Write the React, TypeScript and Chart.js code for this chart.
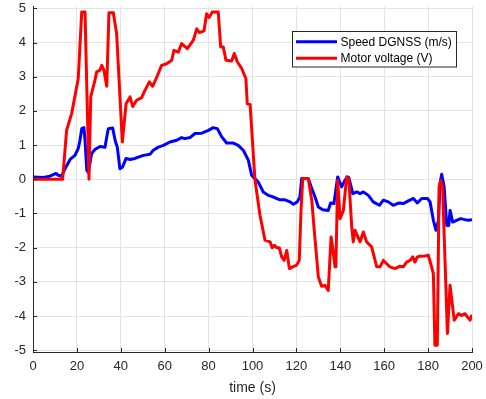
import React, { useEffect, useRef } from "react";
import { Chart, registerables } from "chart.js";

Chart.register(...registerables);

const speedTime = [0, 4.7, 7.7, 10.5, 11.5, 13, 14.6, 16.9, 19.1, 20.6, 21.4, 22.2, 23.2, 23.7, 24.5, 25.2, 26.7, 28.2, 30.5, 32.8, 33.6, 34.3, 36.3, 37.4, 38.4, 39.6, 40.8, 42.4, 44.2, 46.5, 48.0, 50.3, 53.3, 54.8, 57.1, 59.4, 62.4, 65.5, 67.7, 69.2, 71.5, 73.8, 76.9, 79.9, 82.1, 84.0, 86.0, 88.2, 91.3, 93.5, 95.8, 98.1, 99.6, 101.1, 102.6, 104.9, 107.2, 108.7, 110.3, 112.5, 114.8, 117.1, 118.6, 120.4, 121.6, 122.4, 125.4, 127.0, 128.5, 130, 132, 134.5, 135.6, 137.1, 138.8, 140.6, 142.1, 143.2, 143.9, 145.7, 147.5, 149, 150.5, 152.8, 155, 157.8, 159.6, 161.9, 164.1, 166.8, 168.7, 171, 173.3, 175.1, 177.1, 179.7, 180.9, 182.4, 183.6, 184.7, 185.4, 186.2, 187.3, 188.5, 189.4, 190, 191.2, 193, 194.8, 196.8, 198.3, 200];
const speed = [0.07, 0.05, 0.09, 0.17, 0.12, 0.09, 0.31, 0.58, 0.70, 0.90, 1.14, 1.48, 1.51, 1.14, 0.26, 0.20, 0.75, 0.87, 0.96, 0.94, 1.24, 1.48, 1.50, 1.14, 0.94, 0.31, 0.36, 0.61, 0.58, 0.61, 0.65, 0.70, 0.73, 0.85, 0.94, 0.99, 1.09, 1.14, 1.22, 1.19, 1.22, 1.34, 1.35, 1.43, 1.51, 1.48, 1.24, 1.06, 1.06, 0.99, 0.85, 0.56, 0.12, 0.02, -0.08, -0.37, -0.47, -0.5, -0.54, -0.60, -0.60, -0.66, -0.73, -0.66, -0.52, 0.02, 0.02, -0.27, -0.52, -0.81, -0.89, -0.91, -0.69, -0.71, 0.07, -0.22, -0.03, 0.07, 0.05, -0.42, -0.37, -0.42, -0.37, -0.47, -0.66, -0.76, -0.61, -0.66, -0.76, -0.69, -0.71, -0.63, -0.56, -0.69, -0.56, -0.56, -0.66, -1.20, -1.49, -1.20, -0.13, 0.15, -0.22, -1.35, -1.35, -0.91, -1.25, -1.20, -1.15, -1.18, -1.2, -1.18];

const voltTime = [0, 13.5, 15.3, 17.6, 20.6, 22.2, 23.7, 25.5, 26.3, 28.2, 29.0, 30.5, 31.3, 32.3, 33.6, 34.6, 36.6, 38.1, 40.7, 42.4, 44.2, 45.4, 47.2, 49.5, 51.0, 53.0, 54.5, 56.4, 58.6, 60.9, 63.2, 64.2, 66.2, 67.7, 70.3, 73.0, 74.6, 75.8, 77.9, 79.1, 80.2, 81.7, 84.4, 85.5, 86.7, 87.9, 90.5, 91.7, 93.1, 95.1, 97.0, 97.6, 98.9, 101.1, 103.4, 105.7, 108, 109, 110, 111, 112.2, 113.3, 114.4, 115.6, 116.8, 118.3, 120.1, 121.3, 122.1, 122.9, 125.4, 127, 128, 130, 131.5, 133, 134.5, 135.8, 136.5, 137.6, 138, 138.8, 139.9, 141.4, 142.9, 143.9, 145.2, 145.9, 146.7, 147.7, 149, 150.5, 152, 154.3, 156.6, 158.1, 159.6, 161.1, 162.6, 164.9, 167.2, 168.7, 170.2, 171.8, 173, 174, 175.1, 176.3, 178.6, 180.1, 181.6, 182.4, 183.1, 184.2, 185, 185.8, 186.6, 187.7, 188.8, 190, 191.9, 193.8, 195.3, 196.8, 198, 199.1, 200];
const voltage = [0, 0, 1.43, 1.92, 2.94, 4.89, 4.89, 0, 2.41, 2.89, 3.14, 3.19, 3.33, 3.19, 2.72, 4.87, 4.87, 4.26, 1.09, 2.21, 2.41, 2.13, 2.31, 2.39, 2.60, 2.85, 2.72, 2.99, 3.33, 3.38, 3.48, 3.77, 3.72, 3.97, 3.82, 4.06, 4.40, 4.29, 4.34, 4.84, 4.73, 4.89, 4.89, 3.87, 3.87, 3.48, 3.46, 3.68, 3.43, 3.24, 2.94, 2.21, 2.19, 0.0, -1.05, -1.78, -1.83, -2.0, -1.93, -2.0, -2.0, -2.27, -2.37, -2.08, -2.61, -2.56, -2.51, -2.37, -0.91, 0.02, 0.02, -0.61, -1.39, -2.86, -3.13, -3.10, -3.25, -1.69, -1.98, -2.56, -2.51, -0.03, -1.15, -0.91, 0.07, 0.0, -1.39, -1.83, -1.49, -1.64, -1.83, -1.54, -1.83, -1.98, -2.56, -2.56, -2.37, -2.47, -2.56, -2.61, -2.54, -2.56, -2.42, -2.37, -2.27, -2.42, -2.27, -2.25, -2.24, -2.22, -2.56, -2.76, -4.85, -4.85, -0.22, -0.03, -0.22, -2.37, -4.51, -3.10, -4.12, -3.93, -3.98, -3.93, -4.03, -4.12, -3.96];

const seriesNames = ["Speed DGNSS (m/s)", "Motor voltage (V)"];
const seriesColors = ["#0000FF", "#FF0000"];
const xTitle = "time (s)";

const FONT = "'Liberation Sans', Arial, Helvetica, sans-serif";
const AXIS = "#262626";

const zeroPad = (s: any) => {
  s.paddingTop = 0;
  s.paddingBottom = 0;
  s.paddingLeft = 0;
  s.paddingRight = 0;
};

const extrasPlugin = {
  id: "matlabExtras",
  afterDraw(chart: any) {
    const ctx = chart.ctx;
    const area = chart.chartArea;
    const xs = chart.scales.x;
    const ys = chart.scales.y;
    ctx.save();
    ctx.strokeStyle = AXIS;
    ctx.lineWidth = 1;
    ctx.beginPath();
    xs.ticks.forEach((t: any) => {
      const px = Math.round(xs.getPixelForValue(t.value)) + 0.5;
      ctx.moveTo(px, area.bottom);
      ctx.lineTo(px, area.bottom - 4);
    });
    ys.ticks.forEach((t: any) => {
      const py = Math.round(ys.getPixelForValue(t.value)) + 0.5;
      ctx.moveTo(area.left, py);
      ctx.lineTo(area.left + 4, py);
    });
    ctx.stroke();
    const bx = 292.5, by = 31.5, bw = 164, bh = 35.5;
    ctx.fillStyle = "#ffffff";
    ctx.fillRect(bx, by, bw, bh);
    ctx.strokeStyle = AXIS;
    ctx.lineWidth = 1;
    ctx.strokeRect(bx, by, bw, bh);
    const rows = [41.7, 58.3];
    ctx.font = "12px " + FONT;
    ctx.textBaseline = "middle";
    ctx.textAlign = "left";
    seriesNames.forEach((name, i) => {
      ctx.strokeStyle = seriesColors[i];
      ctx.lineWidth = 3;
      ctx.beginPath();
      ctx.moveTo(296, rows[i]);
      ctx.lineTo(337, rows[i]);
      ctx.stroke();
      ctx.fillStyle = "#000000";
      ctx.fillText(name, 340.5, rows[i] + 0.5);
    });
    ctx.restore();
  },
};

export default function App() {
  const ref = useRef<HTMLCanvasElement | null>(null);
  useEffect(() => {
    document.body.style.margin = "0";
    const canvas = ref.current;
    if (!canvas) return;
    const chart = new Chart(canvas, {
      type: "line",
      data: {
        datasets: [
          {
            label: seriesNames[1],
            data: voltTime.map((t, i) => ({ x: t, y: voltage[i] })),
            borderColor: seriesColors[1],
            borderWidth: 3,
            pointRadius: 0,
            tension: 0,
            borderJoinStyle: "round",
            order: 0,
          },
          {
            label: seriesNames[0],
            data: speedTime.map((t, i) => ({ x: t, y: speed[i] })),
            borderColor: seriesColors[0],
            borderWidth: 3,
            pointRadius: 0,
            tension: 0,
            borderJoinStyle: "round",
            order: 1,
          },
        ],
      },
      options: {
        responsive: false,
        animation: false,
        layout: { padding: { left: 0, right: 14, top: 6.6, bottom: 2 } },
        plugins: { legend: { display: false }, tooltip: { enabled: false } },
        scales: {
          x: {
            type: "linear",
            min: 0,
            max: 200,
            afterFit: (s: any) => { s.height = 45; zeroPad(s); },
            ticks: { stepSize: 20, color: AXIS, font: { family: FONT, size: 13 }, padding: 7, maxRotation: 0, includeBounds: false },
            grid: { color: "#e3e3e3", drawTicks: false, lineWidth: 1 },
            border: { display: true, color: AXIS, width: 1 },
            title: { display: true, text: xTitle, color: AXIS, font: { family: FONT, size: 14 }, padding: 0 },
          },
          y: {
            type: "linear",
            min: -5.05,
            max: 5.05,
            afterFit: (s: any) => { s.width = 33; zeroPad(s); },
            ticks: { stepSize: 1, color: AXIS, font: { family: FONT, size: 13 }, padding: 7, includeBounds: false },
            grid: { color: "#e3e3e3", drawTicks: false, lineWidth: 1 },
            border: { display: true, color: AXIS, width: 1 },
          },
        },
      },
      plugins: [extrasPlugin],
    } as any);
    return () => chart.destroy();
  }, []);
  return (
    <div style={{ width: 486, height: 399 }}>
      <canvas ref={ref} width={486} height={399} style={{ display: "block" }} />
    </div>
  );
}
